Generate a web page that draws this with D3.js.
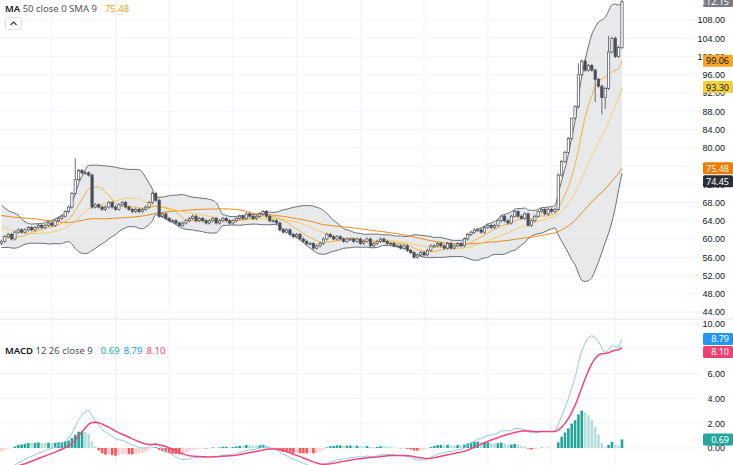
<!DOCTYPE html>
<html><head><meta charset="utf-8">
<script src="https://cdn.jsdelivr.net/npm/d3@7"></script>
<style>body{margin:0;background:#fff}svg{display:block;font-family:"Noto Sans",Roboto,sans-serif}</style>
</head><body><div id="chart"></div>
<script>
const W = 733, H = 465;

// warm-up closes (before the visible window, used for the indicators)
const warmup = [66,67,68,69,68,67,68,69,70,69,68,67,66,67,68,67,66,65,66,67,68,67,66,65,64,65,66,65,64,63,62,63,62,61,62,61,60,61,60,59];
// visible closes
const closes = [
  59.5,60.5,61,60,61.5,62,61.5,62,62.5,62,
  62.5,63,62.5,63,63.5,63,64,64.5,65,66,
  67,70,73,75,74.5,74.5,74,67,67.5,67,
  66.5,67,68,67,66.5,67.5,68,67,66.5,66,
  66.5,66,66.5,67,68,70,68.5,65,65.5,64.5,
  64,64,63.5,63,63.5,64,64.5,65,64,64.5,
  64,63.5,64,64.5,63.5,64,64.5,64,63.5,64,
  64.5,65,64.5,65.5,65,64.5,65,65.5,66,65,
  64,64,63.5,62,61.5,62,61,60.5,61,60,
  59.5,59,59,58,58.5,59,60,61,60.5,60,
  60.5,60,59.5,60,60,59.5,60,59,59.5,60,
  58.5,59,59.5,60,59.5,59,59,58.5,58.5,58,
  58.5,57.5,57,56,56.5,57,56.5,57.5,58.5,58.5,
  59,58.5,58,59,58,58.5,59,58.5,60,61,
  61.5,62,62,61.5,62.5,63,62.5,63,64,65,
  64,63.5,65,66,65,64.5,65.5,63,64,65,
  66,66.5,65.5,66.5,66,66.5,
  74,77,79,82,86.5,89,96,99,97,98,
  97,95,93.5,91,93,101,104,100,102,112
];
// long wicks: bar index -> high / low
const highWicks = [[22, 77.7], [170, 86], [172, 98.5], [181, 104.5], [185, 112.6]];
const lowWicks = [[179, 87.3], [180, 88.5], [177, 90]];

const priceTicks = d3.range(44, 109, 4);
const macdTicks = [0, 2, 4, 6, 8, 10];

const all = warmup.concat(closes);
const off = warmup.length;

function sma(arr, n, i) { if (i < n - 1) return null; return d3.mean(arr.slice(i - n + 1, i + 1)); }
function ema(arr, n) { const k = 2 / (n + 1); const out = []; arr.forEach((v, i) => out.push(i ? v * k + out[i - 1] * (1 - k) : v)); return out; }

const ma9 = all.map((_, i) => sma(all, 9, i));
const ma20 = all.map((_, i) => sma(all, 20, i));
const ma50 = all.map((_, i) => sma(all, Math.min(50, i + 1), i));
const sd20 = all.map((_, i) => i < 19 ? null : d3.deviation(all.slice(i - 19, i + 1)) * Math.sqrt(19 / 20));
const e12 = ema(all, 12), e26 = ema(all, 26);
const macd = all.map((v, i) => e12[i] - e26[i]);
const sig = ema(macd, 9);

const bars = closes.map((c, j) => {
  const i = j + off;
  const o = all[i - 1];
  let hi = Math.max(o, c) + 0.35, lo = Math.min(o, c) - 0.35;
  highWicks.forEach(([k, v]) => { if (k === j) hi = v; });
  lowWicks.forEach(([k, v]) => { if (k === j) lo = v; });
  return { j, o, c, hi, lo, ma9: ma9[i], ma20: ma20[i], ma50: ma50[i],
    up: ma20[i] + 2 * sd20[i], dn: ma20[i] - 2 * sd20[i],
    macd: macd[i], sig: sig[i], hist: macd[i] - sig[i], histPrev: macd[i - 1] - sig[i - 1] };
});

const x = d3.scaleLinear().domain([0, closes.length - 1]).range([1.5, 622]);
const y = d3.scaleLinear().domain([44, 108]).range([312, 20]);
const ym = d3.scaleLinear().domain([0, 10]).range([448, 324]);
const bw = 2.3;

const svg = d3.select("#chart").append("svg").attr("width", W).attr("height", H);
svg.append("defs").append("clipPath").attr("id", "cm").append("rect").attr("x", 0).attr("y", 0).attr("width", 700).attr("height", 318);
svg.select("defs").append("clipPath").attr("id", "cd").append("rect").attr("x", 0).attr("y", 321).attr("width", 700).attr("height", 144);

// grid
const grid = svg.append("g").attr("stroke", "#f0f3fa");
[15, 34, 50, 69, 88, 107, 126, 145, 164, 183].forEach(i => grid.append("line").attr("x1", x(i)).attr("x2", x(i)).attr("y1", 0).attr("y2", H));
grid.selectAll(".hp").data(priceTicks).join("line").attr("x1", 0).attr("x2", 700).attr("y1", d => y(d)).attr("y2", d => y(d));
grid.selectAll(".hm").data(macdTicks).join("line").attr("x1", 0).attr("x2", 700).attr("y1", d => ym(d)).attr("y2", d => ym(d));
svg.append("line").attr("x1", 0).attr("x2", W).attr("y1", 319).attr("y2", 319).attr("stroke", "#e0e3eb");

// main pane
const main = svg.append("g").attr("clip-path", "url(#cm)");
main.append("path").datum(bars).attr("fill", "#e3e5e6").attr("fill-opacity", 0.85)
  .attr("d", d3.area().x(d => x(d.j)).y0(d => y(d.dn)).y1(d => y(d.up)).curve(d3.curveMonotoneX));
["up", "dn"].forEach(k => main.append("path").datum(bars).attr("fill", "none").attr("stroke", "#6b6e75").attr("stroke-width", 1)
  .attr("d", d3.line().x(d => x(d.j)).y(d => y(d[k])).curve(d3.curveMonotoneX)));
[["ma50", "#ef8a17"], ["ma20", "#f5cf6a"], ["ma9", "#f5b13d"]].forEach(([k, c]) =>
  main.append("path").datum(bars).attr("fill", "none").attr("stroke", c).attr("stroke-width", 1)
    .attr("d", d3.line().x(d => x(d.j)).y(d => y(d[k])).curve(d3.curveMonotoneX)));

const cg = main.append("g").selectAll("g").data(bars).join("g");
cg.append("line").attr("x1", d => x(d.j)).attr("x2", d => x(d.j)).attr("y1", d => y(d.hi)).attr("y2", d => y(d.lo)).attr("stroke", "#4a4d55").attr("stroke-width", 0.8);
cg.append("rect").attr("x", d => x(d.j) - bw / 2).attr("width", bw)
  .attr("y", d => y(Math.max(d.o, d.c))).attr("height", d => Math.max(1, Math.abs(y(d.o) - y(d.c))))
  .attr("fill", d => d.c >= d.o ? "#ffffff" : "#4a4d55").attr("stroke", "#4a4d55").attr("stroke-width", 0.7);

// macd pane
const mp = svg.append("g").attr("clip-path", "url(#cd)");
mp.selectAll("rect").data(bars).join("rect")
  .attr("x", d => x(d.j) - 1.3).attr("width", 2.6)
  .attr("y", d => ym(Math.max(0, d.hist))).attr("height", d => Math.abs(ym(d.hist) - ym(0)))
  .attr("fill", d => d.hist >= 0 ? (d.hist >= d.histPrev ? "#26a69a" : "#b2dfdb") : (d.hist < d.histPrev ? "#ff5252" : "#ffcdd2"));
mp.append("path").datum(bars).attr("fill", "none").attr("stroke", "#90c7f5").attr("stroke-width", 1)
  .attr("d", d3.line().x(d => x(d.j)).y(d => ym(d.macd)));
mp.append("path").datum(bars).attr("fill", "none").attr("stroke", "#f2457a").attr("stroke-width", 1.5)
  .attr("d", d3.line().x(d => x(d.j)).y(d => ym(d.sig)));

// last-value tags, pushed apart so they do not overlap
const last = bars[bars.length - 1];
function tags(list, scale, minY) {
  const items = list.map(([v, bg, fg]) => ({ v, bg, fg, py: scale(v) })).sort((a, b) => a.py - b.py);
  let prev = minY - 13;
  items.forEach(t => { t.py = Math.max(t.py, prev + 13); prev = t.py; });
  return items;
}
const priceTags = tags([[last.up, "#787b86", "#fff"], [last.ma9, "#f5a623", "#131722"], [last.ma20, "#f2d03a", "#131722"],
  [last.ma50, "#ef7d00", "#fff"], [last.dn, "#2a2e39", "#fff"]], y, -100);
const macdTags = tags([[last.macd, "#2196f3", "#fff"], [last.sig, "#f23f72", "#fff"], [last.hist, "#26a69a", "#fff"]], ym, 328);

// axes: hide tick labels under a tag
function axisLabels(a, tagList) {
  a.select(".domain").remove();
  a.selectAll("text").attr("x", 25).attr("text-anchor", "end").attr("fill", "#131722").attr("font-size", 9);
}
const pa = svg.append("g").attr("transform", "translate(700,0)").call(d3.axisRight(y).tickValues(priceTicks).tickFormat(d3.format(".2f")).tickSize(0));
const ma = svg.append("g").attr("transform", "translate(700,0)").call(d3.axisRight(ym).tickValues(macdTicks).tickFormat(d3.format(".2f")).tickSize(0));
axisLabels(pa); axisLabels(ma);

priceTags.concat(macdTags).forEach(t => {
  const g = svg.append("g").attr("transform", `translate(703,${t.py})`);
  g.append("rect").attr("x", 0).attr("y", -6).attr("width", 30).attr("height", 12).attr("rx", 1.5).attr("fill", t.bg);
  g.append("text").attr("x", 26).attr("y", 3.5).attr("text-anchor", "end").attr("font-size", 9).attr("fill", t.fg).text(t.v.toFixed(2));
});

// legends
const lg = svg.append("text").attr("x", 5).attr("y", 12).attr("font-size", 9.5).attr("fill", "#131722");
lg.append("tspan").attr("font-weight", 600).text("MA");
lg.append("tspan").attr("fill", "#555").text(" 50 close 0 SMA 9");
lg.append("tspan").attr("dx", 8).attr("fill", "#f0a020").text(last.ma50.toFixed(2));
svg.append("rect").attr("x", 5.5).attr("y", 17.5).attr("width", 16).attr("height", 12).attr("rx", 2).attr("fill", "#fff").attr("stroke", "#e0e3eb");
svg.append("path").attr("d", "M10.5,25 L13.5,22 L16.5,25").attr("fill", "none").attr("stroke", "#333").attr("stroke-width", 1.1);
const ml = svg.append("text").attr("x", 5).attr("y", 354).attr("font-size", 9.5).attr("fill", "#131722");
ml.append("tspan").attr("font-weight", 600).text("MACD");
ml.append("tspan").attr("fill", "#555").text(" 12 26 close 9");
ml.append("tspan").attr("dx", 8).attr("fill", "#26a69a").text(last.hist.toFixed(2));
ml.append("tspan").attr("dx", 4).attr("fill", "#2196f3").text(last.macd.toFixed(2));
ml.append("tspan").attr("dx", 4).attr("fill", "#f23f72").text(last.sig.toFixed(2));
</script></body></html>
